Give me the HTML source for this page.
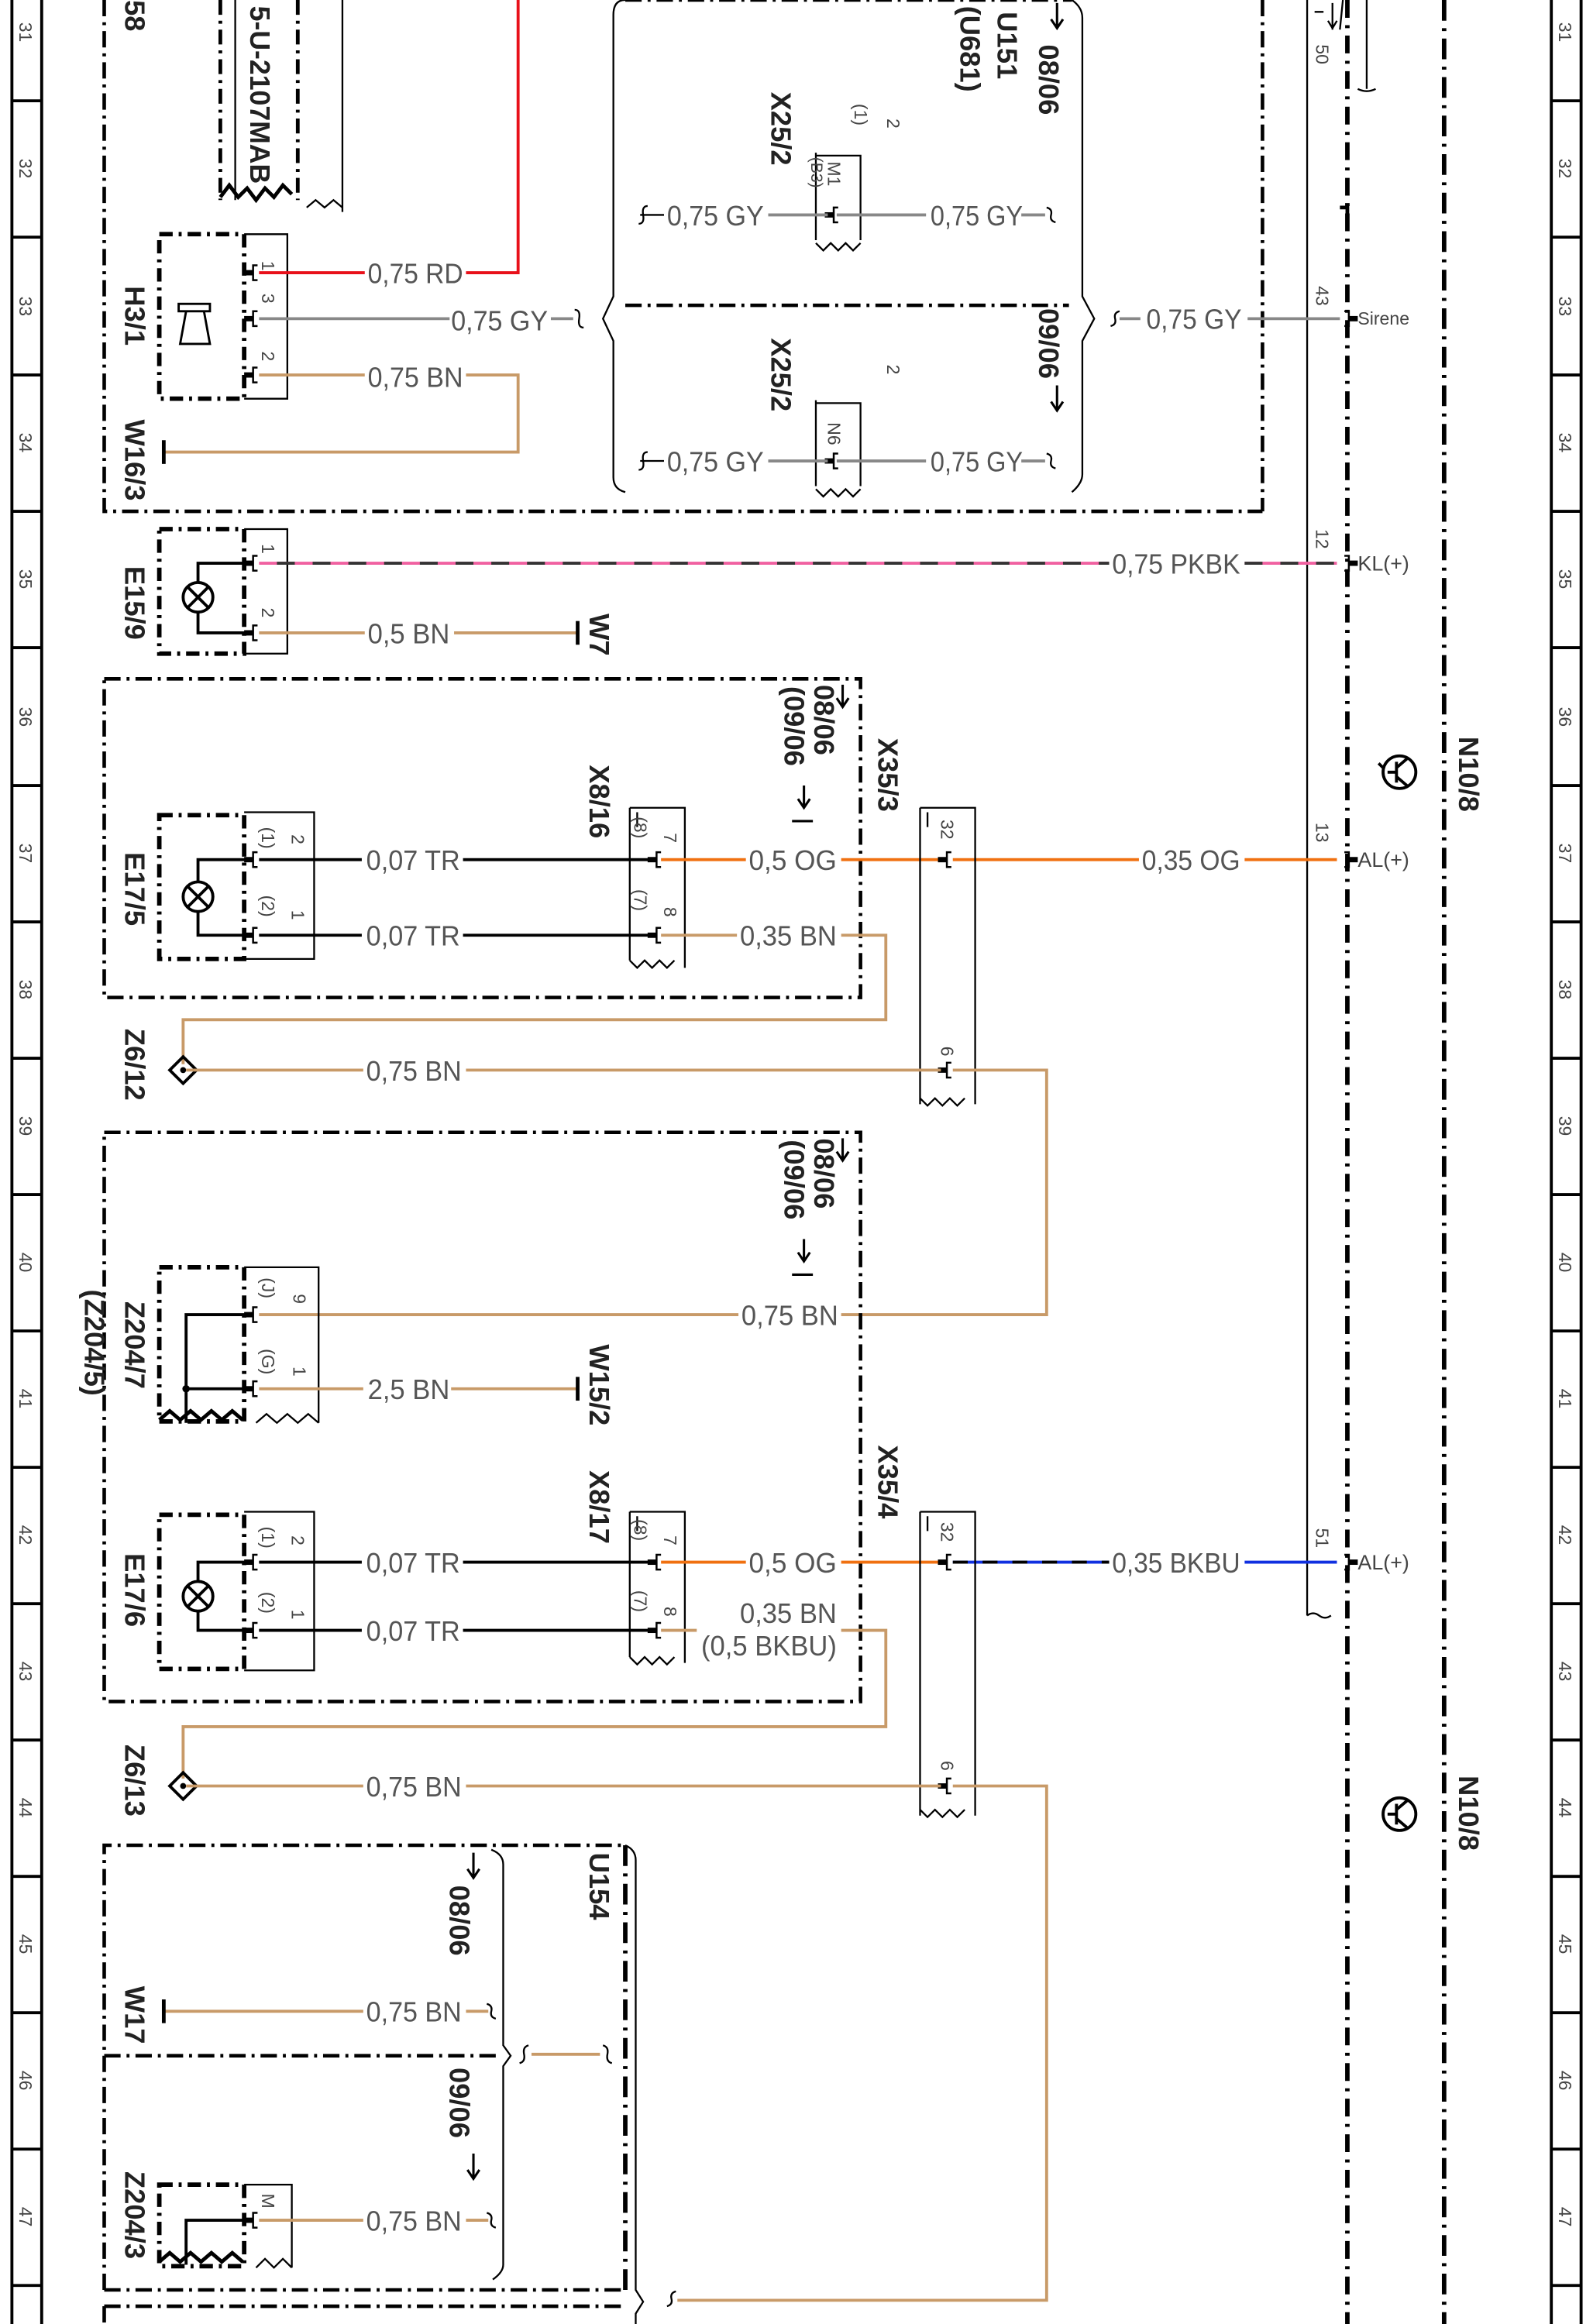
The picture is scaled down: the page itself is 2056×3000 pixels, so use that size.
<!DOCTYPE html>
<html><head><meta charset="utf-8"><style>
html,body{margin:0;padding:0;background:#fff;}
svg{display:block;}
text{font-family:"Liberation Sans",sans-serif;}
.w{font-size:19px;fill:#555;}
.s{font-size:12px;fill:#444;}
.b{font-size:19px;font-weight:bold;fill:#222;}
.dd{fill:none;stroke:#000;stroke-width:2.4;stroke-dasharray:11 4 2 4;}
.thin{fill:none;stroke:#000;stroke-width:1.2;}
.bx{fill:none;stroke:#000;stroke-width:3;stroke-dasharray:9 4 2 4;}
</style></head><body>
<svg width="2056" height="3000" viewBox="0 0 1070 1568" preserveAspectRatio="none" xmlns="http://www.w3.org/2000/svg">
<defs>
<g id="pin"><rect x="-6" y="-1.8" width="6" height="3.6" fill="#000"/><path d="M3,-5 h-3 v10 h3" fill="none" stroke="#000" stroke-width="1.3"/></g>
<g id="zz"><path d="M0,0 l5,5 l5,-5 l5,5 l5,-5 l5,5 l5,-5" fill="none" stroke="#000" stroke-width="1.2"/></g>
</defs>
<!-- rulers -->
<g stroke="#000" stroke-width="2" fill="none">
<line x1="8" y1="0" x2="8" y2="1568"/><line x1="28" y1="0" x2="28" y2="1568"/>
<line x1="1042" y1="0" x2="1042" y2="1568"/><line x1="1062" y1="0" x2="1062" y2="1568"/>
</g>
<g stroke="#000" stroke-width="2">
<line x1="8" y1="68" x2="28" y2="68"/><line x1="8" y1="160" x2="28" y2="160"/><line x1="8" y1="253" x2="28" y2="253"/><line x1="8" y1="345" x2="28" y2="345"/><line x1="8" y1="437" x2="28" y2="437"/><line x1="8" y1="530" x2="28" y2="530"/><line x1="8" y1="622" x2="28" y2="622"/><line x1="8" y1="714" x2="28" y2="714"/><line x1="8" y1="806" x2="28" y2="806"/><line x1="8" y1="898" x2="28" y2="898"/><line x1="8" y1="990" x2="28" y2="990"/><line x1="8" y1="1082" x2="28" y2="1082"/><line x1="8" y1="1174" x2="28" y2="1174"/><line x1="8" y1="1266" x2="28" y2="1266"/><line x1="8" y1="1358" x2="28" y2="1358"/><line x1="8" y1="1450" x2="28" y2="1450"/><line x1="8" y1="1542" x2="28" y2="1542"/>
<line x1="1042" y1="68" x2="1062" y2="68"/><line x1="1042" y1="160" x2="1062" y2="160"/><line x1="1042" y1="253" x2="1062" y2="253"/><line x1="1042" y1="345" x2="1062" y2="345"/><line x1="1042" y1="437" x2="1062" y2="437"/><line x1="1042" y1="530" x2="1062" y2="530"/><line x1="1042" y1="622" x2="1062" y2="622"/><line x1="1042" y1="714" x2="1062" y2="714"/><line x1="1042" y1="806" x2="1062" y2="806"/><line x1="1042" y1="898" x2="1062" y2="898"/><line x1="1042" y1="990" x2="1062" y2="990"/><line x1="1042" y1="1082" x2="1062" y2="1082"/><line x1="1042" y1="1174" x2="1062" y2="1174"/><line x1="1042" y1="1266" x2="1062" y2="1266"/><line x1="1042" y1="1358" x2="1062" y2="1358"/><line x1="1042" y1="1450" x2="1062" y2="1450"/><line x1="1042" y1="1542" x2="1062" y2="1542"/>
</g>
<g class="s">
<text transform="translate(13,15) rotate(90)">31</text><text transform="translate(13,107) rotate(90)">32</text><text transform="translate(13,200) rotate(90)">33</text><text transform="translate(13,292) rotate(90)">34</text><text transform="translate(13,384) rotate(90)">35</text><text transform="translate(13,477) rotate(90)">36</text><text transform="translate(13,569) rotate(90)">37</text><text transform="translate(13,661) rotate(90)">38</text><text transform="translate(13,753) rotate(90)">39</text><text transform="translate(13,845) rotate(90)">40</text><text transform="translate(13,937) rotate(90)">41</text><text transform="translate(13,1029) rotate(90)">42</text><text transform="translate(13,1121) rotate(90)">43</text><text transform="translate(13,1213) rotate(90)">44</text><text transform="translate(13,1305) rotate(90)">45</text><text transform="translate(13,1397) rotate(90)">46</text><text transform="translate(13,1489) rotate(90)">47</text>
<text transform="translate(1047,15) rotate(90)">31</text><text transform="translate(1047,107) rotate(90)">32</text><text transform="translate(1047,200) rotate(90)">33</text><text transform="translate(1047,292) rotate(90)">34</text><text transform="translate(1047,384) rotate(90)">35</text><text transform="translate(1047,477) rotate(90)">36</text><text transform="translate(1047,569) rotate(90)">37</text><text transform="translate(1047,661) rotate(90)">38</text><text transform="translate(1047,753) rotate(90)">39</text><text transform="translate(1047,845) rotate(90)">40</text><text transform="translate(1047,937) rotate(90)">41</text><text transform="translate(1047,1029) rotate(90)">42</text><text transform="translate(1047,1121) rotate(90)">43</text><text transform="translate(1047,1213) rotate(90)">44</text><text transform="translate(1047,1305) rotate(90)">45</text><text transform="translate(1047,1397) rotate(90)">46</text><text transform="translate(1047,1489) rotate(90)">47</text>
</g>

<!-- right side lines -->
<line x1="970" y1="0" x2="970" y2="1568" stroke="#000" stroke-width="3" stroke-dasharray="14 5 2 5"/>
<line x1="905" y1="0" x2="905" y2="1568" stroke="#000" stroke-width="3" stroke-dasharray="12 5 2 5"/>
<line x1="878" y1="0" x2="878" y2="1090" class="thin"/>
<path d="M878,1090 q4,-3 8,0 q4,3 8,0" class="thin"/>
<path d="M900,140 h5 v10" fill="none" stroke="#000" stroke-width="2.5"/>
<line x1="902" y1="0" x2="900" y2="20" class="thin"/>
<path d="M883,8 h6 M895,2 v18 M892,14 l3,5 l3,-5" class="thin"/>
<text class="s" transform="translate(884,30) rotate(90)">50</text>
<path d="M918,0 v60 M912,60 q6,3 12,0" class="thin"/>
<line x1="848" y1="0" x2="848" y2="345" class="dd"/>

<!-- top outer box -->
<path d="M70,0 V345 H848" class="dd"/>
<text class="b" transform="translate(84,0) rotate(90)">58</text>
<line x1="148" y1="0" x2="148" y2="135" stroke="#000" stroke-width="2.5" stroke-dasharray="10 4 2 4"/>
<line x1="200" y1="0" x2="200" y2="135" stroke="#000" stroke-width="2.5" stroke-dasharray="10 4 2 4"/>
<line x1="158" y1="0" x2="158" y2="135" class="thin"/>
<line x1="230" y1="0" x2="230" y2="143" class="thin"/>
<path d="M148,133 l6,-8 l6,8 l6,-6 l6,8 l6,-8 l6,6 l6,-8 l6,6" fill="none" stroke="#000" stroke-width="2.5"/>
<path d="M206,140 l6,-5 l6,5 l6,-5 l6,5" class="thin"/>
<text class="b" transform="translate(168,4) rotate(90)" textLength="120" lengthAdjust="spacingAndGlyphs">5-U-2107MAB</text>

<!-- H3/1 -->
<rect x="107" y="158" width="57" height="111" class="bx"/>
<path d="M164,158 h29 v111 h-29" class="thin"/>
<rect x="120" y="205" width="21" height="5" fill="none" stroke="#000" stroke-width="1.5"/>
<path d="M125,210 l-4,22 h20 l-4,-22" fill="none" stroke="#000" stroke-width="1.5"/>
<text class="b" transform="translate(84,193) rotate(90)">H3/1</text>
<text class="b" transform="translate(84,283) rotate(90)">W16/3</text>
<text class="s" transform="translate(176,176) rotate(90)">1</text><text class="s" transform="translate(176,198) rotate(90)">3</text><text class="s" transform="translate(176,237) rotate(90)">2</text>
<use href="#pin" x="170" y="184"/><use href="#pin" x="170" y="215"/><use href="#pin" x="170" y="253"/>
<path d="M174,184 H245 M313,184 H348 V0" fill="none" stroke="#e8101a" stroke-width="2"/>
<text class="w" x="247" y="191" textLength="64" lengthAdjust="spacingAndGlyphs">0,75 RD</text>
<path d="M174,215 H302 M370,215 H385" fill="none" stroke="#888" stroke-width="2"/>
<path d="M386,209 q4,0 3,6 q-1,6 3,6" class="thin"/>
<text class="w" x="303" y="223" textLength="65" lengthAdjust="spacingAndGlyphs">0,75 GY</text>
<path d="M174,253 H245 M313,253 H348 V305 H110" fill="none" stroke="#c89a68" stroke-width="2"/>
<line x1="110" y1="297" x2="110" y2="313" stroke="#000" stroke-width="2.5"/>
<text class="w" x="247" y="261" textLength="64" lengthAdjust="spacingAndGlyphs">0,75 BN</text>

<!-- U151 brace block -->
<path d="M420,0 q-8,0 -8,10 V200 l-7,15 l7,15 V322 q0,8 8,10" class="thin" stroke-width="2"/>
<line x1="420" y1="0" x2="720" y2="0" class="dd"/>
<path d="M720,0 q7,5 7,12 V200 l8,15 l-8,15 V320 q0,6 -7,12" class="thin" stroke-width="2"/>
<line x1="420" y1="206" x2="718" y2="206" class="dd"/>
<text class="b" transform="translate(670,8) rotate(90)">U151</text>
<text class="b" transform="translate(645,4) rotate(90)">(U681)</text>
<text class="b" transform="translate(698,30) rotate(90)">08/06</text>
<path d="M710,2 v16 M706,13 l4,6 l4,-6" stroke="#000" stroke-width="1.6" fill="none"/>
<text class="b" transform="translate(698,208) rotate(90)">09/06</text>
<path d="M710,260 v16 M706,271 l4,6 l4,-6" stroke="#000" stroke-width="1.6" fill="none"/>
<text class="b" transform="translate(518,62) rotate(90)">X25/2</text>
<text class="b" transform="translate(518,228) rotate(90)">X25/2</text>
<text class="s" transform="translate(596,80) rotate(90)">2</text><text class="s" transform="translate(574,70) rotate(90)">(1)</text>
<text class="s" transform="translate(596,246) rotate(90)">2</text>
<path d="M548,105 H578 V162 M548,103 V162" class="thin"/>
<path d="M548,272 H578 V328 M548,270 V328" class="thin"/>
<use href="#zz" x="548" y="164"/>
<use href="#zz" x="548" y="330"/>
<text class="s" transform="translate(556,109) rotate(90)">M1</text><text class="s" transform="translate(545,106) rotate(90)" style="font-size:11px">(B3)</text>
<text class="s" transform="translate(556,285) rotate(90)">N6</text>
<use href="#pin" x="560" y="145"/><use href="#pin" x="560" y="311"/>
<path d="M516,145 H556 M562,145 H622 M686,145 H702" stroke="#888" stroke-width="2" fill="none"/>
<path d="M516,311 H556 M562,311 H622 M686,311 H702" stroke="#888" stroke-width="2" fill="none"/>
<text class="w" x="448" y="152" textLength="65" lengthAdjust="spacingAndGlyphs">0,75 GY</text>
<text class="w" x="625" y="152" textLength="62" lengthAdjust="spacingAndGlyphs">0,75 GY</text>
<text class="w" x="448" y="318" textLength="65" lengthAdjust="spacingAndGlyphs">0,75 GY</text>
<text class="w" x="625" y="318" textLength="62" lengthAdjust="spacingAndGlyphs">0,75 GY</text>
<path d="M435,139 q-4,0 -3,6 q1,6 -3,6 M430,145 H446" class="thin"/>
<path d="M435,305 q-4,0 -3,6 q1,6 -3,6 M430,311 H446" class="thin"/>
<path d="M703,140 q4,1 3,5 q-1,4 3,5" class="thin"/><path d="M703,306 q4,1 3,5 q-1,4 3,5" class="thin"/>
<path d="M752,210 q-4,1 -3,5 q1,4 -3,5" class="thin"/>
<path d="M752,215 H766 M838,215 H900" stroke="#888" stroke-width="2" fill="none"/>
<text class="w" x="770" y="222" textLength="64" lengthAdjust="spacingAndGlyphs">0,75 GY</text>
<use href="#pin" x="906" y="215" transform="translate(1812,0) scale(-1,1)"/>
<text class="s" transform="translate(884,193) rotate(90)">43</text>
<text class="s" x="912" y="219">Sirene</text>

<!-- E15/9 -->
<rect x="107" y="357" width="57" height="84" class="bx"/>
<path d="M164,357 h29 v84 h-29" class="thin"/>
<circle cx="133" cy="403" r="10" fill="none" stroke="#000" stroke-width="2"/>
<path d="M126,396 l14,14 M140,396 l-14,14 M133,393 V380 H168 M133,413 V427 H168" fill="none" stroke="#000" stroke-width="2"/>
<text class="b" transform="translate(84,382) rotate(90)">E15/9</text>
<text class="s" transform="translate(176,367) rotate(90)">1</text><text class="s" transform="translate(176,410) rotate(90)">2</text>
<use href="#pin" x="170" y="380"/><use href="#pin" x="170" y="427"/>
<line x1="174" y1="380" x2="745" y2="380" stroke="#f060a0" stroke-width="2"/>
<line x1="174" y1="380" x2="745" y2="380" stroke="#333" stroke-width="2" stroke-dasharray="12 12" stroke-dashoffset="12"/>
<line x1="836" y1="380" x2="898" y2="380" stroke="#f060a0" stroke-width="2"/>
<line x1="836" y1="380" x2="898" y2="380" stroke="#333" stroke-width="2" stroke-dasharray="12 12"/>
<text class="w" x="747" y="387" textLength="86" lengthAdjust="spacingAndGlyphs">0,75 PKBK</text>
<use href="#pin" x="906" y="380" transform="translate(1812,0) scale(-1,1)"/>
<text class="s" transform="translate(884,357) rotate(90)">12</text>
<text class="s" x="912" y="385" style="font-size:14px">KL(+)</text>
<path d="M174,427 H245 M305,427 H388" stroke="#c89a68" stroke-width="2" fill="none"/>
<line x1="388" y1="419" x2="388" y2="435" stroke="#000" stroke-width="2.5"/>
<text class="w" x="247" y="434" textLength="55" lengthAdjust="spacingAndGlyphs">0,5 BN</text>
<text class="b" transform="translate(396,414) rotate(90)">W7</text>

<!-- N10/8 -->
<text class="b" transform="translate(980,497) rotate(90)">N10/8</text>
<text class="b" transform="translate(980,1198) rotate(90)">N10/8</text>
<g fill="none" stroke="#000" stroke-width="2">
<circle cx="940" cy="521" r="11"/><path d="M932,521 h6 M938,514 v14 M938,518 l7,-6 M938,524 l7,6 M929,518 l-3,-3"/>
<circle cx="940" cy="1224" r="11"/><path d="M932,1224 h6 M938,1217 v14 M938,1221 l7,-6 M938,1227 l7,6"/>
</g>

<!-- Box 1 E17/5 -->
<rect x="70" y="458" width="508" height="215" class="dd"/>
<text class="b" transform="translate(590,498) rotate(90)">X35/3</text>
<text class="b" transform="translate(547,462) rotate(90)">08/06</text>
<path d="M566,462 v14 M562,471 l4,6 l4,-6" stroke="#000" stroke-width="1.6" fill="none"/>
<text class="b" transform="translate(527,463) rotate(90)">(09/06</text>
<path d="M540,530 v14 M536,539 l4,6 l4,-6 M532,554 h14" stroke="#000" stroke-width="1.6" fill="none"/>
<rect x="107" y="550" width="57" height="97" class="bx"/>
<path d="M164,548 h47 v99 h-47" class="thin"/>
<circle cx="133" cy="605" r="10" fill="none" stroke="#000" stroke-width="2"/>
<path d="M126,598 l14,14 M140,598 l-14,14 M133,595 V580 H168 M133,615 V631 H168" fill="none" stroke="#000" stroke-width="2"/>
<text class="b" transform="translate(84,575) rotate(90)">E17/5</text>
<text class="s" transform="translate(176,558) rotate(90)">(1)</text><text class="s" transform="translate(196,563) rotate(90)">2</text>
<text class="s" transform="translate(176,604) rotate(90)">(2)</text><text class="s" transform="translate(196,614) rotate(90)">1</text>
<use href="#pin" x="170" y="580"/><use href="#pin" x="170" y="631"/>
<path d="M174,580 H243 M311,580 H440 M174,631 H243 M311,631 H440" stroke="#000" stroke-width="2" fill="none"/>
<text class="w" x="246" y="587" textLength="63" lengthAdjust="spacingAndGlyphs">0,07 TR</text>
<text class="w" x="246" y="638" textLength="63" lengthAdjust="spacingAndGlyphs">0,07 TR</text>
<path d="M423,545 V648 M423,545 h37 V653" class="thin"/><path d="M428,548 v10" class="thin"/>
<use href="#zz" x="423" y="648"/>
<text class="b" transform="translate(396,516) rotate(90)">X8/16</text>
<text class="s" transform="translate(426,551) rotate(90)">(8)</text><text class="s" transform="translate(446,562) rotate(90)">7</text>
<text class="s" transform="translate(426,600) rotate(90)">(7)</text><text class="s" transform="translate(446,612) rotate(90)">8</text>
<use href="#pin" x="441" y="580"/><use href="#pin" x="441" y="631"/>
<path d="M444,580 H501 M565,580 H630 M640,580 H765 M836,580 H898" stroke="#f07010" stroke-width="2" fill="none"/>
<text class="w" x="503" y="587" textLength="59" lengthAdjust="spacingAndGlyphs">0,5 OG</text>
<text class="w" x="767" y="587" textLength="66" lengthAdjust="spacingAndGlyphs">0,35 OG</text>
<use href="#pin" x="906" y="580" transform="translate(1812,0) scale(-1,1)"/>
<text class="s" transform="translate(884,555) rotate(90)">13</text>
<text class="s" x="912" y="585" style="font-size:14px">AL(+)</text>
<path d="M444,631 H495 M565,631 H595 V688 H123 V718" stroke="#c89a68" stroke-width="2" fill="none"/>
<text class="w" x="497" y="638" textLength="65" lengthAdjust="spacingAndGlyphs">0,35 BN</text>
<path d="M618,545 V745 M618,545 h37 V745 M623,548 v10" class="thin"/>
<use href="#zz" x="618" y="741"/>
<text class="s" transform="translate(632,553) rotate(90)">32</text><text class="s" transform="translate(632,706) rotate(90)">6</text>
<use href="#pin" x="636" y="580"/><use href="#pin" x="636" y="722"/>
<path d="M123,713 l9,9 l-9,9 l-9,-9z" fill="none" stroke="#000" stroke-width="2"/>
<circle cx="123" cy="722" r="2" fill="#000"/>
<text class="b" transform="translate(84,694) rotate(90)">Z6/12</text>
<path d="M125,722 H244 M313,722 H632 M640,722 H703 V887 H565 M174,887 H496" stroke="#c89a68" stroke-width="2" fill="none"/>
<text class="w" x="246" y="729" textLength="64" lengthAdjust="spacingAndGlyphs">0,75 BN</text>

<!-- Box 2 -->
<rect x="70" y="764" width="508" height="384" class="dd"/>
<text class="b" transform="translate(547,768) rotate(90)">08/06</text>
<path d="M566,768 v14 M562,777 l4,6 l4,-6" stroke="#000" stroke-width="1.6" fill="none"/>
<text class="b" transform="translate(527,769) rotate(90)">(09/06</text>
<path d="M540,836 v14 M536,845 l4,6 l4,-6 M532,860 h14" stroke="#000" stroke-width="1.6" fill="none"/>
<text class="b" transform="translate(590,975) rotate(90)">X35/4</text>
<rect x="107" y="855" width="57" height="104" class="bx"/>
<path d="M164,855 h50 v105" class="thin"/>
<path d="M107,958 l7,-6 l7,6 l7,-6 l7,6 l7,-6 l7,6 l7,-6 l7,6" fill="none" stroke="#000" stroke-width="2.5"/>
<path d="M172,960 l7,-6 l7,6 l7,-6 l7,6 l7,-6 l7,6" class="thin"/>
<path d="M168,887 H125 V960 M125,937 H168" fill="none" stroke="#000" stroke-width="2"/>
<circle cx="125" cy="937" r="2.5" fill="#000"/>
<text class="b" transform="translate(84,878) rotate(90)">Z204/7</text>
<text class="b" transform="translate(57,870) rotate(90)">(Z204/5)</text>
<text class="s" transform="translate(176,862) rotate(90)">(J)</text><text class="s" transform="translate(197,873) rotate(90)">9</text>
<text class="s" transform="translate(176,910) rotate(90)">(G)</text><text class="s" transform="translate(197,922) rotate(90)">1</text>
<use href="#pin" x="170" y="887"/><use href="#pin" x="170" y="937"/>
<text class="w" x="498" y="894" textLength="65" lengthAdjust="spacingAndGlyphs">0,75 BN</text>
<path d="M174,937 H244 M303,937 H388" stroke="#c89a68" stroke-width="2" fill="none"/>
<line x1="388" y1="929" x2="388" y2="945" stroke="#000" stroke-width="2.5"/>
<text class="w" x="247" y="944" textLength="55" lengthAdjust="spacingAndGlyphs">2,5 BN</text>
<text class="b" transform="translate(396,907) rotate(90)">W15/2</text>
<rect x="107" y="1022" width="57" height="104" class="bx"/>
<path d="M164,1020 h47 v107 h-47" class="thin"/>
<circle cx="133" cy="1077" r="10" fill="none" stroke="#000" stroke-width="2"/>
<path d="M126,1070 l14,14 M140,1070 l-14,14 M133,1067 V1054 H168 M133,1087 V1100 H168" fill="none" stroke="#000" stroke-width="2"/>
<text class="b" transform="translate(84,1048) rotate(90)">E17/6</text>
<text class="s" transform="translate(176,1030) rotate(90)">(1)</text><text class="s" transform="translate(196,1036) rotate(90)">2</text>
<text class="s" transform="translate(176,1074) rotate(90)">(2)</text><text class="s" transform="translate(196,1086) rotate(90)">1</text>
<use href="#pin" x="170" y="1054"/><use href="#pin" x="170" y="1100"/>
<path d="M174,1054 H243 M311,1054 H440 M174,1100 H243 M311,1100 H440" stroke="#000" stroke-width="2" fill="none"/>
<text class="w" x="246" y="1061" textLength="63" lengthAdjust="spacingAndGlyphs">0,07 TR</text>
<text class="w" x="246" y="1107" textLength="63" lengthAdjust="spacingAndGlyphs">0,07 TR</text>
<path d="M423,1020 V1118 M423,1020 h37 V1122 M428,1023 v10" class="thin"/>
<use href="#zz" x="423" y="1118"/>
<text class="b" transform="translate(396,992) rotate(90)">X8/17</text>
<text class="s" transform="translate(426,1025) rotate(90)">(8)</text><text class="s" transform="translate(446,1036) rotate(90)">7</text>
<text class="s" transform="translate(426,1073) rotate(90)">(7)</text><text class="s" transform="translate(446,1084) rotate(90)">8</text>
<use href="#pin" x="441" y="1054"/><use href="#pin" x="441" y="1100"/>
<path d="M444,1054 H501 M565,1054 H630" stroke="#f07010" stroke-width="2" fill="none"/>
<path d="M640,1054 H745 M836,1054 H898" stroke="#1030e0" stroke-width="2" fill="none"/>
<path d="M640,1054 H745" stroke="#000" stroke-width="2" stroke-dasharray="10 10" fill="none"/>
<text class="w" x="503" y="1061" textLength="59" lengthAdjust="spacingAndGlyphs">0,5 OG</text>
<text class="w" x="747" y="1061" textLength="86" lengthAdjust="spacingAndGlyphs">0,35 BKBU</text>
<use href="#pin" x="906" y="1054" transform="translate(1812,0) scale(-1,1)"/>
<text class="s" transform="translate(884,1031) rotate(90)">51</text>
<text class="s" x="912" y="1059" style="font-size:14px">AL(+)</text>
<path d="M444,1100 H468 M565,1100 H595 V1165 H123 V1200" stroke="#c89a68" stroke-width="2" fill="none"/>
<text class="w" x="497" y="1095" textLength="65" lengthAdjust="spacingAndGlyphs">0,35 BN</text>
<text class="w" x="471" y="1117" textLength="91" lengthAdjust="spacingAndGlyphs">(0,5 BKBU)</text>
<path d="M618,1020 V1225 M618,1020 h37 V1225 M623,1023 v10" class="thin"/>
<use href="#zz" x="618" y="1221"/>
<text class="s" transform="translate(632,1027) rotate(90)">32</text><text class="s" transform="translate(632,1188) rotate(90)">6</text>
<use href="#pin" x="636" y="1054"/><use href="#pin" x="636" y="1205"/>
<path d="M123,1196 l9,9 l-9,9 l-9,-9z" fill="none" stroke="#000" stroke-width="2"/>
<circle cx="123" cy="1205" r="2" fill="#000"/>
<text class="b" transform="translate(84,1177) rotate(90)">Z6/13</text>
<path d="M125,1205 H244 M313,1205 H632 M640,1205 H703 V1552 H455" stroke="#c89a68" stroke-width="2" fill="none"/>
<text class="w" x="246" y="1212" textLength="64" lengthAdjust="spacingAndGlyphs">0,75 BN</text>
<path d="M454,1546 q-4,1 -3,5 q1,4 -3,5" class="thin"/>

<!-- Bottom U154 -->
<path d="M70,1545 V1245 H420" class="dd"/>
<line x1="70" y1="1545" x2="420" y2="1545" class="dd"/>
<line x1="420" y1="1245" x2="420" y2="1545" stroke="#000" stroke-width="3" stroke-dasharray="14 5 2 5"/>
<path d="M420,1245 q7,3 7,10 V1545 l5,8 l-5,8 V1568" class="thin" stroke-width="2"/>
<path d="M70,1556 H420" class="dd"/>
<path d="M70,1556 V1568" class="dd"/>
<path d="M330,1248 q8,3 8,10 V1380 l5,7 l-5,7 V1528 q0,5 -7,10" class="thin" stroke-width="2"/>
<line x1="70" y1="1387" x2="335" y2="1387" class="dd"/>
<text class="b" transform="translate(396,1250) rotate(90)">U154</text>
<text class="b" transform="translate(302,1272) rotate(90)">08/06</text>
<path d="M318,1250 v16 M314,1261 l4,6 l4,-6" stroke="#000" stroke-width="1.6" fill="none"/>
<text class="b" transform="translate(302,1395) rotate(90)">09/06</text>
<path d="M318,1453 v16 M314,1464 l4,6 l4,-6" stroke="#000" stroke-width="1.6" fill="none"/>
<path d="M110,1357 H244 M313,1357 H328" stroke="#c89a68" stroke-width="2" fill="none"/>
<line x1="110" y1="1349" x2="110" y2="1365" stroke="#000" stroke-width="2.5"/>
<text class="b" transform="translate(84,1340) rotate(90)">W17</text>
<text class="w" x="246" y="1364" textLength="64" lengthAdjust="spacingAndGlyphs">0,75 BN</text>
<path d="M357,1386 H403" stroke="#c89a68" stroke-width="2" fill="none"/>
<path d="M355,1380 q-4,1 -3,6 q1,5 -3,6 M405,1380 q4,1 3,6 q-1,5 3,6" class="thin"/>
<rect x="107" y="1474" width="57" height="55" class="bx"/>
<path d="M164,1474 h32 v56" class="thin"/>
<path d="M107,1526 l7,-6 l7,6 l7,-6 l7,6 l7,-6 l7,6 l7,-6 l7,6" fill="none" stroke="#000" stroke-width="2.5"/>
<path d="M172,1530 l6,-6 l6,6 l6,-6 l6,6" class="thin"/>
<path d="M168,1498 H125 V1528" fill="none" stroke="#000" stroke-width="2"/>
<text class="b" transform="translate(84,1465) rotate(90)">Z204/3</text>
<text class="s" transform="translate(176,1480) rotate(90)">M</text>
<use href="#pin" x="170" y="1498"/>
<path d="M174,1498 H244 M313,1498 H328" stroke="#c89a68" stroke-width="2" fill="none"/>
<text class="w" x="246" y="1505" textLength="64" lengthAdjust="spacingAndGlyphs">0,75 BN</text>
<path d="M327,1352 q4,1 3,5 q-1,4 3,5 M327,1493 q4,1 3,5 q-1,4 3,5" class="thin"/>
</svg>
</body></html>
